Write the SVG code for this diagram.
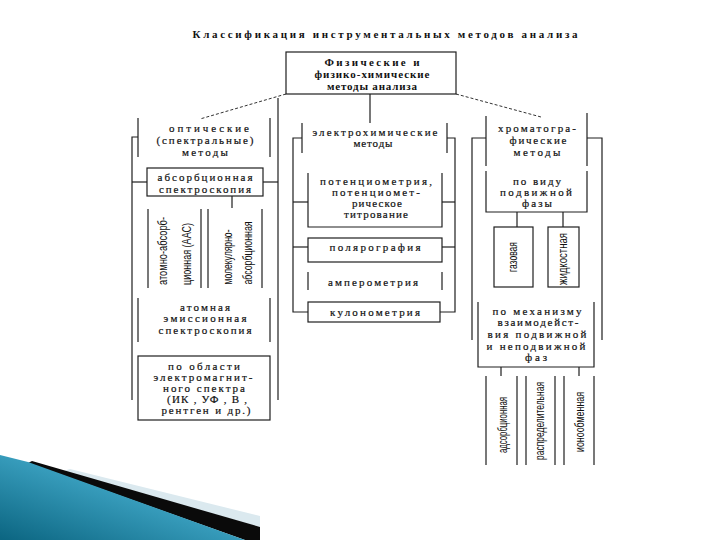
<svg xmlns="http://www.w3.org/2000/svg" width="720" height="540" viewBox="0 0 720 540">
<defs>
<style>
.ln{stroke:#1e1e1e;stroke-width:1.2;fill:none}
.bx{fill:#fff;stroke:#1e1e1e;stroke-width:1.2}
.ds{stroke:#333;stroke-width:1;stroke-dasharray:3 2;fill:none}
.t{font-family:"Liberation Serif","DejaVu Serif",serif;font-size:11px;fill:#111;stroke:#111;stroke-width:0.2;text-anchor:middle}
.tb{font-family:"Liberation Serif","DejaVu Serif",serif;font-size:11px;font-weight:bold;fill:#111;text-anchor:middle}
.v{font-family:"Liberation Sans","DejaVu Sans",sans-serif;font-size:12px;fill:#111;text-anchor:middle}
</style>
<linearGradient id="teal" x1="0" y1="1" x2="1" y2="0">
<stop offset="0" stop-color="#0b6581"/>
<stop offset="0.6" stop-color="#3fa6c6"/>
<stop offset="1" stop-color="#1f87a8"/>
</linearGradient>
</defs>
<rect width="720" height="540" fill="#fff"/>

<g id="decoration">
<polygon points="70,469 260,516 260,527 60,472" fill="#dbe9ef"/>
<polygon points="32,461 260,527 260,540 245,540 28,463" fill="#0a0a0a"/>
<polygon points="0,455 28,462 245,540 0,540" fill="url(#teal)"/>
</g>

<text class="tb" x="385" y="38" font-size="14.5" textLength="385" lengthAdjust="spacing">Классификация инструментальных методов анализа</text>

<g id="connectors">
<line class="ln" x1="370" y1="94" x2="370" y2="123"/>
<line class="ds" x1="286" y1="94" x2="200" y2="119"/>
<line class="ds" x1="456" y1="94" x2="541" y2="117"/>
<polyline class="ln" points="138,137 132,137 132,400"/>
<polyline class="ln" points="278,98 278,400"/>
<line class="ln" x1="132" y1="182" x2="147" y2="182"/>
<line class="ln" x1="263" y1="182" x2="278" y2="182"/>
<line class="ln" x1="232" y1="196" x2="232" y2="208"/>
<polyline class="ln" points="302,138 293,138 293,312 308,312"/>
<polyline class="ln" points="447,138 455,138 455,312 440,312"/>
<line class="ln" x1="293" y1="202" x2="308" y2="202"/>
<line class="ln" x1="442" y1="202" x2="455" y2="202"/>
<line class="ln" x1="293" y1="247" x2="308" y2="247"/>
<line class="ln" x1="442" y1="247" x2="455" y2="247"/>
<polyline class="ln" points="486,138 472,138 472,340"/>
<polyline class="ln" points="587,138 602,138 602,340"/>
<line class="ln" x1="517" y1="212" x2="517" y2="227"/>
<line class="ln" x1="563" y1="212" x2="563" y2="227"/>
<line class="ln" x1="501" y1="367" x2="501" y2="376"/>
<line class="ln" x1="579" y1="367" x2="579" y2="376"/>
</g>

<g id="top">
<rect class="bx" x="286" y="52" width="170" height="42"/>
<text class="tb" x="372" y="66" textLength="95" lengthAdjust="spacing">Физические и</text>
<text class="tb" x="372" y="78" textLength="115" lengthAdjust="spacing">физико-химические</text>
<text class="tb" x="372" y="90" textLength="90" lengthAdjust="spacing">методы анализа</text>
</g>

<g id="optical">
<line class="ln" x1="138" y1="118" x2="138" y2="157"/>
<line class="ln" x1="270" y1="118" x2="270" y2="157"/>
<text class="t" x="209" y="132" textLength="80" lengthAdjust="spacing">оптические</text>
<text class="t" x="205" y="144" textLength="97" lengthAdjust="spacing">(спектральные)</text>
<text class="t" x="205" y="156" textLength="46" lengthAdjust="spacing">методы</text>
</g>
<g id="absorption">
<rect class="bx" x="147" y="168" width="116" height="28"/>
<text class="t" x="205" y="181" textLength="95" lengthAdjust="spacing">абсорбционная</text>
<text class="t" x="205" y="193" textLength="92" lengthAdjust="spacing">спектроскопия</text>
</g>
<g id="aas">
<line class="ln" x1="148" y1="209" x2="148" y2="288"/>
<line class="ln" x1="201" y1="209" x2="201" y2="288"/>
<text class="v" transform="translate(163,251) rotate(-90)" y="4" textLength="68" lengthAdjust="spacingAndGlyphs">атомно-абсорб-</text>
<text class="v" transform="translate(187,254) rotate(-90)" y="4" textLength="62" lengthAdjust="spacingAndGlyphs">ционная (ААС)</text>
</g>
<g id="molecular">
<line class="ln" x1="208" y1="209" x2="208" y2="288"/>
<line class="ln" x1="262" y1="209" x2="262" y2="288"/>
<text class="v" transform="translate(228,257) rotate(-90)" y="4" textLength="55" lengthAdjust="spacingAndGlyphs">молекулярно-</text>
<text class="v" transform="translate(248,253) rotate(-90)" y="4" textLength="63" lengthAdjust="spacingAndGlyphs">абсорбционная</text>
</g>
<g id="emission">
<line class="ln" x1="138" y1="298" x2="138" y2="342"/>
<line class="ln" x1="270" y1="298" x2="270" y2="342"/>
<text class="t" x="205" y="311" textLength="50" lengthAdjust="spacing">атомная</text>
<text class="t" x="205" y="322" textLength="83" lengthAdjust="spacing">эмиссионная</text>
<text class="t" x="205" y="334" textLength="93" lengthAdjust="spacing">спектроскопия</text>
</g>
<g id="region">
<rect class="bx" x="138" y="356" width="132" height="64"/>
<text class="t" x="204" y="370" textLength="72" lengthAdjust="spacing">по  области</text>
<text class="t" x="203" y="381" textLength="99" lengthAdjust="spacing">электромагнит-</text>
<text class="t" x="204" y="392" textLength="82" lengthAdjust="spacing">ного спектра</text>
<text class="t" x="207" y="403" textLength="80" lengthAdjust="spacing">(ИК , УФ , В ,</text>
<text class="t" x="206" y="414" textLength="89" lengthAdjust="spacing">рентген  и др.)</text>
</g>

<g id="electrochem">
<line class="ln" x1="302" y1="123" x2="302" y2="153"/>
<line class="ln" x1="447" y1="123" x2="447" y2="153"/>
<text class="t" x="375" y="136" textLength="125" lengthAdjust="spacing">электрохимические</text>
<text class="t" x="373" y="147" textLength="39" lengthAdjust="spacing">методы</text>
</g>
<g id="potentiometry">
<polyline class="ln" points="308,173 308,227 442,227 442,173"/>
<text class="t" x="376" y="185" textLength="112" lengthAdjust="spacing">потенциометрия,</text>
<text class="t" x="376" y="196" textLength="88" lengthAdjust="spacing">потенциомет-</text>
<text class="t" x="377" y="207" textLength="50" lengthAdjust="spacing">рическое</text>
<text class="t" x="376" y="218" textLength="64" lengthAdjust="spacing">титрование</text>
</g>
<g id="polarography">
<rect class="bx" x="308" y="238" width="134" height="24"/>
<text class="t" x="375" y="251" textLength="91" lengthAdjust="spacing">полярография</text>
</g>
<g id="amperometry">
<line class="ln" x1="308" y1="272" x2="308" y2="290"/>
<line class="ln" x1="442" y1="272" x2="442" y2="290"/>
<text class="t" x="373" y="286" textLength="90" lengthAdjust="spacing">амперометрия</text>
</g>
<g id="coulometry">
<rect class="bx" x="308" y="302" width="132" height="20"/>
<text class="t" x="375" y="316" textLength="90" lengthAdjust="spacing">кулонометрия</text>
</g>

<g id="chromatography">
<line class="ln" x1="486" y1="116" x2="486" y2="166"/>
<line class="ln" x1="587" y1="113" x2="587" y2="166"/>
<text class="t" x="537" y="132" textLength="78" lengthAdjust="spacing">хроматогра-</text>
<text class="t" x="538" y="144" textLength="57" lengthAdjust="spacing">фические</text>
<text class="t" x="537" y="156" textLength="47" lengthAdjust="spacing">методы</text>
</g>
<g id="mobile-phase">
<polyline class="ln" points="486,171 486,212 587,212 587,171"/>
<text class="t" x="537" y="185" textLength="48" lengthAdjust="spacing">по виду</text>
<text class="t" x="536" y="196" textLength="72" lengthAdjust="spacing">подвижной</text>
<text class="t" x="537" y="207" textLength="30" lengthAdjust="spacing">фазы</text>
</g>
<g id="gas">
<rect class="bx" x="494" y="227" width="39" height="60"/>
<text class="v" transform="translate(513,257) rotate(-90)" y="4" textLength="30" lengthAdjust="spacingAndGlyphs">газовая</text>
</g>
<g id="liquid">
<rect class="bx" x="548" y="227" width="31" height="60"/>
<text class="v" transform="translate(563,259) rotate(-90)" y="4" textLength="52" lengthAdjust="spacingAndGlyphs">жидкостная</text>
</g>
<g id="mechanism">
<polyline class="ln" points="478,302 478,367 594,367 594,302"/>
<text class="t" x="537" y="315" textLength="89" lengthAdjust="spacing">по механизму</text>
<text class="t" x="538" y="326" textLength="81" lengthAdjust="spacing">взаимодейст-</text>
<text class="t" x="537" y="338" textLength="99" lengthAdjust="spacing">вия подвижной</text>
<text class="t" x="536" y="350" textLength="99" lengthAdjust="spacing">и неподвижной</text>
<text class="t" x="536" y="361" textLength="22" lengthAdjust="spacing">фаз</text>
</g>
<g id="adsorption">
<line class="ln" x1="486" y1="376" x2="486" y2="465"/>
<line class="ln" x1="517" y1="376" x2="517" y2="465"/>
<text class="v" transform="translate(503,425) rotate(-90)" y="4" textLength="56" lengthAdjust="spacingAndGlyphs">адсорбционная</text>
</g>
<g id="partition">
<line class="ln" x1="526" y1="376" x2="526" y2="465"/>
<line class="ln" x1="555" y1="376" x2="555" y2="465"/>
<text class="v" transform="translate(540,421) rotate(-90)" y="4" textLength="78" lengthAdjust="spacingAndGlyphs">распределительная</text>
</g>
<g id="ion-exchange">
<line class="ln" x1="564" y1="376" x2="564" y2="465"/>
<line class="ln" x1="594" y1="376" x2="594" y2="465"/>
<text class="v" transform="translate(580,422) rotate(-90)" y="4" textLength="60" lengthAdjust="spacingAndGlyphs">ионообменная</text>
</g>
</svg>
